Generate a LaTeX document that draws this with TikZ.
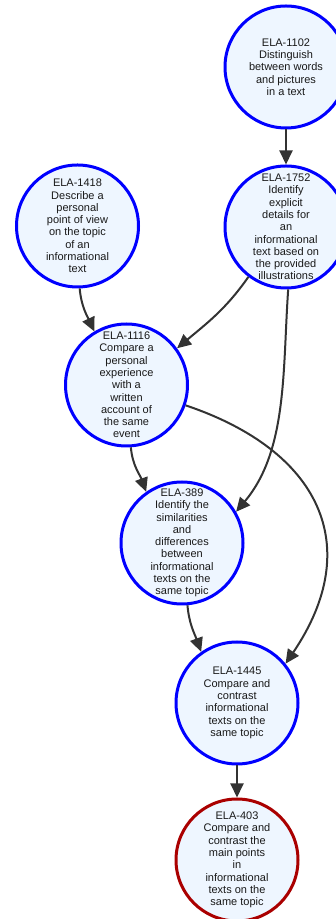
\documentclass[tikz,border=0pt]{standalone}
\usepackage{fontspec}
\setmainfont{Liberation Sans}
\usetikzlibrary{arrows.meta}

\definecolor{topicfill}{HTML}{EEF6FF}
\definecolor{edgegray}{HTML}{333333}
\definecolor{goalred}{HTML}{AA0000}

\begin{document}
\begin{tikzpicture}[x = 1pt, y = 1pt, > = {Triangle[length = 14pt, width = 13pt]},
	topic/.style = {circle, draw = blue, line width = 3pt, fill = topicfill, minimum size = 122pt, inner sep = 0pt},
	goal/.style = {topic, draw = goalred},
	topictext/.style = {align = center, text = black!90, font = \fontsize{11}{12.3}\selectfont},
	link/.style = {->, draw = edgegray, line width = 2pt}]

	% Canvas

	\useasboundingbox (0, 0) rectangle (335, 919);

	% Draw topics

	\node [topic, label = {[topictext] center:ELA-1102\\Distinguish\\between words\\and pictures\\in a text}] (n1102) at (286, 852) {};
	\node [topic, label = {[topictext] center:ELA-1752\\Identify\\explicit\\details for\\an\\informational\\text based on\\the provided\\illustrations}] (n1752) at (286, 692) {};
	\node [topic, label = {[topictext] center:ELA-1418\\Describe a\\personal\\point of view\\on the topic\\of an\\informational\\text}] (n1418) at (77.5, 693) {};
	\node [topic, label = {[topictext] center:ELA-1116\\Compare a\\personal\\experience\\with a\\written\\account of\\the same\\event}] (n1116) at (126.5, 534) {};
	\node [topic, label = {[topictext] center:ELA-389\\Identify the\\similarities\\and\\differences\\between\\informational\\texts on the\\same topic}] (n389) at (182, 376) {};
	\node [topic, label = {[topictext] center:ELA-1445\\Compare and\\contrast\\informational\\texts on the\\same topic}] (n1445) at (237, 216) {};
	\node [goal, label = {[topictext] center:ELA-403\\Compare and\\contrast the\\main points\\in\\informational\\texts on the\\same topic}] (n403) at (237, 59) {};

	% Draw links

	\draw [link] (n1102) -- (n1752);
	\draw [link] (n1752.233) to [out = 235, in = 40] (n1116.36);
	\draw [link] (n1752.-88) to [out = -94, in = 50, looseness = 0.9] (n389.30);
	\draw [link] (n1418.-88) to [out = -85, in = 115] (n1116.121);
	\draw [link] (n1116.-86) to [out = -85, in = 110] (n389.125);
	\draw [link] (n1116.-19) .. controls +(134, -45) and +(80, 118) .. (n1445.39);
	\draw [link] (n389.-85) to [out = -85, in = 110] (n1445.125);
	\draw [link] (n1445) -- (n403);

\end{tikzpicture}
\end{document}
